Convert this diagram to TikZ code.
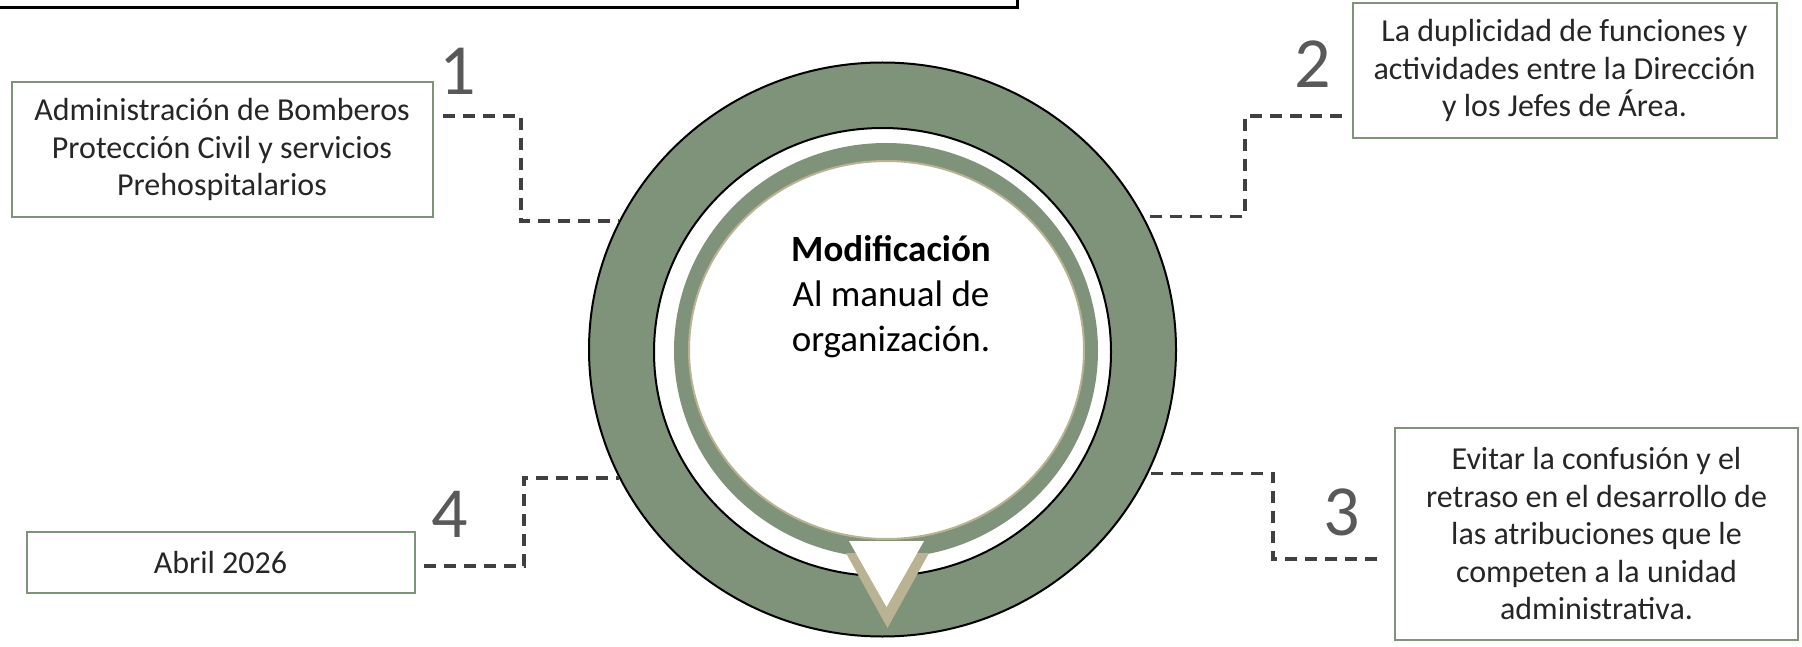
\documentclass[tikz,border=0pt]{standalone}
\usepackage{fontspec}
\setmainfont{Carlito}
\usetikzlibrary{shapes.geometric}
\definecolor{sage}{HTML}{7F927A}
\definecolor{sand}{HTML}{B9B393}
\definecolor{linkgray}{HTML}{404040}
\definecolor{boxtext}{HTML}{262626}
\definecolor{numgray}{HTML}{595959}
\tikzset{
  infobox/.style={rectangle, draw=sage, line width=2pt, fill=white, inner sep=0pt,
    align=center, text=boxtext, font=\fontsize{32}{37.5}\selectfont},
  link/.style={draw=linkgray, line width=3.5pt, dash pattern=on 12pt off 8pt},
  stepnum/.style={text=numgray, font=\fontsize{72}{72}\selectfont, anchor=base, inner sep=0pt},
  disc/.style={ellipse, inner sep=0pt},
}
\begin{document}
\begin{tikzpicture}[x=1pt,y=-1pt]
  \useasboundingbox (0,0) rectangle (1802,647);
  % frame cut off at the top
  \draw[line width=3pt] (-10,-50) rectangle (1017,7.5);
  % the rings
  \node[disc, draw=black, line width=2pt, fill=sage, minimum width=587pt, minimum height=574pt] (ring) at (882.5,349.5) {};
  \node[disc, draw=black, line width=2pt, fill=white, minimum width=457pt, minimum height=448pt] (gap) at (882.5,352) {};
  \node[disc, fill=sage, minimum width=424pt, minimum height=415pt] (band) at (886,350.5) {};
  \node[disc, draw=sand, line width=2pt, fill=white, minimum width=395pt, minimum height=378pt] (core) at (886.5,350) {};
  \fill[sand] (846,553) -- (929,553) -- (887.5,628) -- cycle;
  \fill[white] (849,541) -- (924,541) -- (886.5,607) -- cycle;
  \node[align=center, font=\fontsize{37}{45}\selectfont] (title) at (891,297)
    {\textbf{Modificación}\\Al manual de\\organización.};
  % boxes
  \node[infobox, minimum width=421pt, minimum height=135pt] (box1) at (222,149.5)
    {Administración de Bomberos\\Protección Civil y servicios\\Prehospitalarios};
  \node[infobox, minimum width=424pt, minimum height=135pt] (box2) at (1564.5,70.5)
    {La duplicidad de funciones y\\actividades entre la Dirección\\y los Jefes de Área.};
  \node[infobox, minimum width=403pt, minimum height=212pt] (box3) at (1596.5,534)
    {Evitar la confusión y el\\retraso en el desarrollo de\\las atribuciones que le\\competen a la unidad\\administrativa.};
  \node[infobox, minimum width=388pt, minimum height=61pt] (box4) at (220.5,562.5)
    {Abril 2026};
  % numbers
  \node[stepnum] (n1) at (458,95) {1};
  \node[stepnum] (n2) at (1313,88) {2};
  \node[stepnum] (n3) at (1342,535) {3};
  \node[stepnum] (n4) at (450,537) {4};
  % connectors
  \coordinate (s1) at (443,116);
  \coordinate (s2) at (1342,116);
  \coordinate (s3) at (1377,559);
  \coordinate (s4) at (424,566);
  \draw[link] (s1) -- ++(78,0) |- (ring.154.2);
  \draw[link] (s2) -- ++(-97,0) |- (ring.27.3);
  \draw[link] (s3) -- ++(-104,0) |- (ring.-25.8);
  \draw[link] (s4) -- ++(100,0) |- (ring.206);
\end{tikzpicture}
\end{document}
